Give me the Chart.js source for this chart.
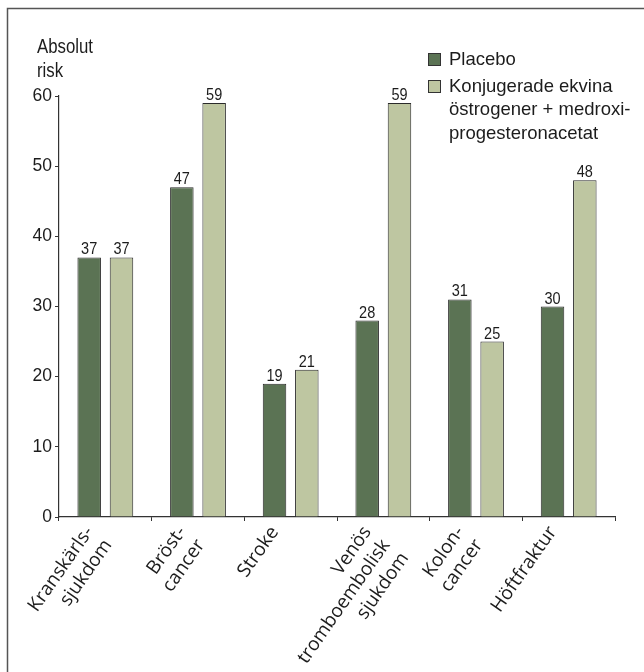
<!DOCTYPE html>
<html lang="sv">
<head>
<meta charset="utf-8">
<title>Absolut risk</title>
<script src="https://cdn.jsdelivr.net/npm/chart.js@4.4.1/dist/chart.umd.min.js"></script>
<style>
  html, body { margin: 0; padding: 0; background: #fff; }
  canvas { display: block; }
</style>
</head>
<body>
<canvas id="risk-chart" width="644" height="672"></canvas>
<script>
// Categories (multi-line labels as arrays)
const categories = [
  ['Kranskärls-', 'sjukdom'],
  ['Bröst-', 'cancer'],
  'Stroke',
  ['Venös', 'tromboembolisk', 'sjukdom'],
  ['Kolon-', 'cancer'],
  'Höftfraktur',
];
const placeboValues = [37, 47, 19, 28, 31, 30];
const hormoneValues = [37, 59, 21, 59, 25, 48];
const yTicks = [0, 10, 20, 30, 40, 50, 60];
const seriesNames = ['Placebo', ['Konjugerade ekvina', 'östrogener + medroxi-', 'progesteronacetat']];
const axisTitle = ['Absolut', 'risk'];

const SANS = "'Liberation Sans', Arial, sans-serif";
const DARK = '#5b7354';
const LIGHT = '#bec6a1';
const INK = '#1c1c1c';

// draw text squeezed horizontally (the original uses a condensed face)
function squeezed(ctx, text, x, y, sx) {
  ctx.save();
  ctx.translate(x, y);
  ctx.scale(sx, 1);
  ctx.fillText(text, 0, 0);
  ctx.restore();
}

// Frame, title, legend and value labels
const decorations = {
  id: 'decorations',
  beforeDraw(c) {
    const { ctx } = c;
    ctx.save();
    ctx.strokeStyle = '#555';
    ctx.lineWidth = 1.5;
    ctx.beginPath();
    ctx.moveTo(7.5, 680);
    ctx.lineTo(7.5, 8.5);
    ctx.lineTo(660, 8.5);
    ctx.stroke();
    ctx.restore();
  },
  afterDraw(c) {
    const { ctx } = c;
    ctx.save();
    ctx.fillStyle = INK;
    ctx.textAlign = 'left';
    ctx.textBaseline = 'alphabetic';
    // axis title
    ctx.font = `21px ${SANS}`;
    squeezed(ctx, axisTitle[0], 37, 53, 0.8);
    squeezed(ctx, axisTitle[1], 37, 77, 0.8);

    // legend
    ctx.font = `18.5px ${SANS}`;
    const boxes = [53, 80];
    const lineYs = [[65], [91.5, 115, 138.5]];
    c.data.datasets.forEach((ds, i) => {
      ctx.fillStyle = ds.backgroundColor;
      ctx.fillRect(428, boxes[i], 12.5, 12.5);
      ctx.strokeStyle = '#333';
      ctx.lineWidth = 1;
      ctx.strokeRect(428.5, boxes[i] + 0.5, 12, 12);
      ctx.fillStyle = INK;
      const lines = Array.isArray(seriesNames[i]) ? seriesNames[i] : [seriesNames[i]];
      lines.forEach((t, k) => ctx.fillText(t, 449, lineYs[i][k]));
    });

    // value labels above bars
    ctx.font = `16.5px ${SANS}`;
    ctx.textAlign = 'center';
    ctx.fillStyle = INK;
    c.data.datasets.forEach((ds, i) => {
      c.getDatasetMeta(i).data.forEach((bar, j) => {
        squeezed(ctx, String(ds.data[j]), bar.x, bar.y - 3, 0.88);
      });
    });
    ctx.restore();
  },
};

const ctx = document.getElementById('risk-chart');
const chart = new Chart(ctx, {
  type: 'bar',
  data: {
    labels: categories,
    datasets: [
      {
        label: 'Placebo',
        data: placeboValues,
        backgroundColor: DARK,
        borderColor: '#2a2a2a',
        borderWidth: 1,
        categoryPercentage: 0.697,
        barPercentage: 0.728,
      },
      {
        label: 'Konjugerade ekvina östrogener + medroxiprogesteronacetat',
        data: hormoneValues,
        backgroundColor: LIGHT,
        borderColor: '#2a2a2a',
        borderWidth: 1,
        categoryPercentage: 0.697,
        barPercentage: 0.728,
      },
    ],
  },
  options: {
    responsive: false,
    animation: false,
    devicePixelRatio: 1,
    layout: {
      padding: { top: 96, right: 29, bottom: 0, left: 0 },
    },
    plugins: {
      legend: { display: false },
      tooltip: { enabled: false },
    },
    scales: {
      x: {
        grid: {
          drawOnChartArea: false,
          offset: true,
          tickLength: 4,
          color: '#333',
        },
        border: { display: true, color: '#333', width: 1.2 },
        ticks: {
          autoSkip: false,
          minRotation: 55,
          maxRotation: 55,
          padding: 1,
          labelOffset: -16,
          color: INK,
          font: { family: "'Open Sans', sans-serif", size: 19 },
        },
        afterFit(scale) { scale.height = 155; },
      },
      y: {
        min: 0,
        max: 60,
        afterBuildTicks(scale) { scale.ticks = yTicks.map((v) => ({ value: v })); },
        grid: {
          drawOnChartArea: false,
          tickLength: 4,
          color: '#333',
        },
        border: { display: true, color: '#333', width: 1.2 },
        ticks: {
          padding: 3,
          color: INK,
          font: { family: SANS, size: 17.5 },
        },
        afterFit(scale) { scale.width = 59; },
      },
    },
  },
  plugins: [decorations],
});
</script>
</body>
</html>
